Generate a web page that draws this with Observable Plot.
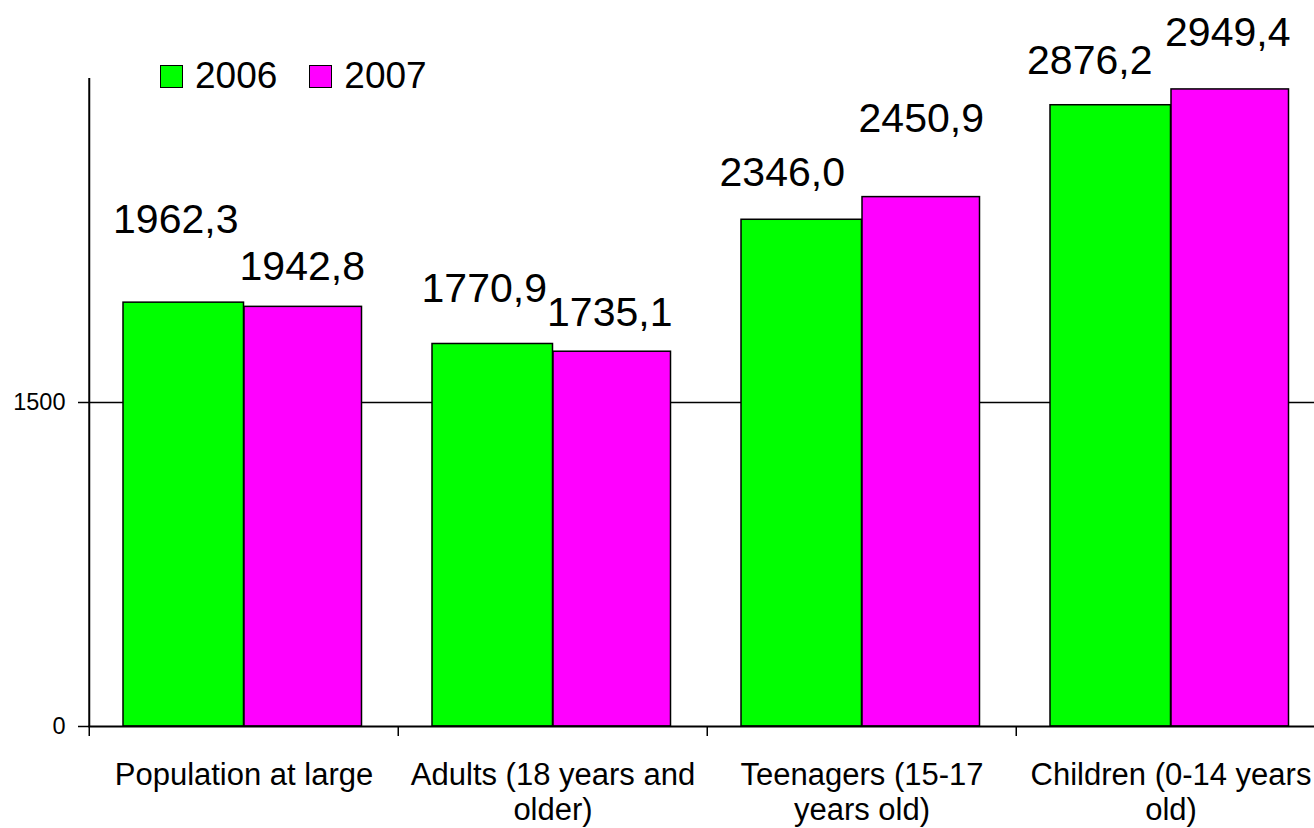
<!DOCTYPE html>
<html>
<head>
<meta charset="utf-8">
<script src="https://cdn.jsdelivr.net/npm/d3@7"></script>
<script src="https://cdn.jsdelivr.net/npm/@observablehq/plot@0.6"></script>
<style>
  html, body { margin: 0; padding: 0; background: #fff; overflow: hidden; }
  #wrap { position: relative; width: 1314px; height: 828px; overflow: hidden; font-family: "Liberation Sans", Arial, sans-serif; }
  #chart > svg { max-width: none !important; width: 1326px !important; height: 828px !important; display: block; }
  #legend { position: absolute; left: 160px; top: 55px; display: flex; align-items: center; font-size: 37px; color: #000; line-height: 1.15; }
  #legend .item { display: inline-flex; align-items: center; margin-right: 32px; }
  #legend .sw { display: inline-block; width: 23px; height: 23px; box-sizing: border-box; border: 1.5px solid #000; margin-right: 12px; }
</style>
</head>
<body>
<div id="wrap"><div id="chart"></div><div id="legend"></div></div>
<script>
// ---- data ----
const categories = ["Population at large", "Adults (18 years and older)", "Teenagers (15-17 years old)", "Children (0-14 years old)"];
const categoryLabels = ["Population at large", "Adults (18 years and\nolder)", "Teenagers (15-17\nyears old)", "Children (0-14 years\nold)"];
const years = ["2006", "2007"];
const values2006 = [1962.3, 1770.9, 2346.0, 2876.2];
const values2007 = [1942.8, 1735.1, 2450.9, 2949.4];
const yTicks = [0, 1500];
const colors = ["#00ff00", "#ff00ff"];

// ---- layout ----
const W = 1326, H = 828, mL = 88, mR = 0, mT = 78, mB = 102;
const step = (W - mL - mR) / categories.length;
const barL = 34, barMid = 155, barR = 36.5;
// label nudges [dx, dy] relative to bar top centre (reference label placement)
const nudge2006 = [[-8, -83], [-8.5, -55.5], [-19.5, -47], [-21, -44]];
const nudge2007 = [[-1, -40], [-2.5, -39], [0, -78], [-2.5, -56.5]];

const rows = categories.flatMap((c, i) => [
  {category: c, year: years[0], value: values2006[i], nudge: nudge2006[i], barCenter: (barL + barMid) / 2 - step / 2},
  {category: c, year: years[1], value: values2007[i], nudge: nudge2007[i], barCenter: (barMid + step - barR) / 2 - step / 2}
]);
const fmt = v => v.toFixed(1).replace(".", ",");

const chart = Plot.plot({
  width: W, height: H,
  marginLeft: mL, marginRight: mR, marginTop: mT, marginBottom: mB,
  style: {fontFamily: '"Liberation Sans", Arial, sans-serif', color: "#000", background: "#fff", maxWidth: "none"},
  x: {type: "band", domain: categories, padding: 0, axis: null},
  y: {domain: [0, 3000], axis: null},
  color: {domain: years, range: colors},
  marks: [
    Plot.ruleY([1500], {stroke: "#000", strokeWidth: 1.5}),
    Plot.barY(rows.filter(d => d.year === years[0]), {x: "category", y: "value", fill: "year", stroke: "#000", strokeWidth: 1.5, insetLeft: barL, insetRight: step - barMid}),
    Plot.barY(rows.filter(d => d.year === years[1]), {x: "category", y: "value", fill: "year", stroke: "#000", strokeWidth: 1.5, insetLeft: barMid, insetRight: barR}),
    Plot.ruleY([0], {stroke: "#000", strokeWidth: 2}),
    Plot.ruleX([categories[0]], {y1: 0, y2: 3000, dx: -step / 2, stroke: "#000", strokeWidth: 2}),
    Plot.axisY(yTicks, {tickSize: 10, tickPadding: 13, fontSize: 23.5, tickFormat: d => String(d), label: null, stroke: "#000", strokeWidth: 1.5}),
    Plot.axisX(categories, {tickSize: 10, tickFormat: () => "", dx: -step / 2, label: null, stroke: "#000", strokeWidth: 1.5}),
    Plot.axisX(categories, {tickSize: 0, tickPadding: 33, fontSize: 31, lineHeight: 1.15, tickFormat: d => categoryLabels[categories.indexOf(d)], label: null}),
    ...rows.map(r => Plot.text([r], {x: "category", y: "value", text: d => fmt(d.value), fontSize: 41, fill: "#000", dx: r.barCenter + r.nudge[0], dy: r.nudge[1]}))
  ]
});
document.getElementById("chart").appendChild(chart);

// legend built from the plot's own color scale
const colorScale = chart.scale("color");
const legendDiv = d3.select("#legend");
colorScale.domain.forEach(y => {
  const item = legendDiv.append("span").attr("class", "item");
  item.append("span").attr("class", "sw").style("background", colorScale.apply(y));
  item.append("span").text(y);
});
</script>
</body>
</html>
